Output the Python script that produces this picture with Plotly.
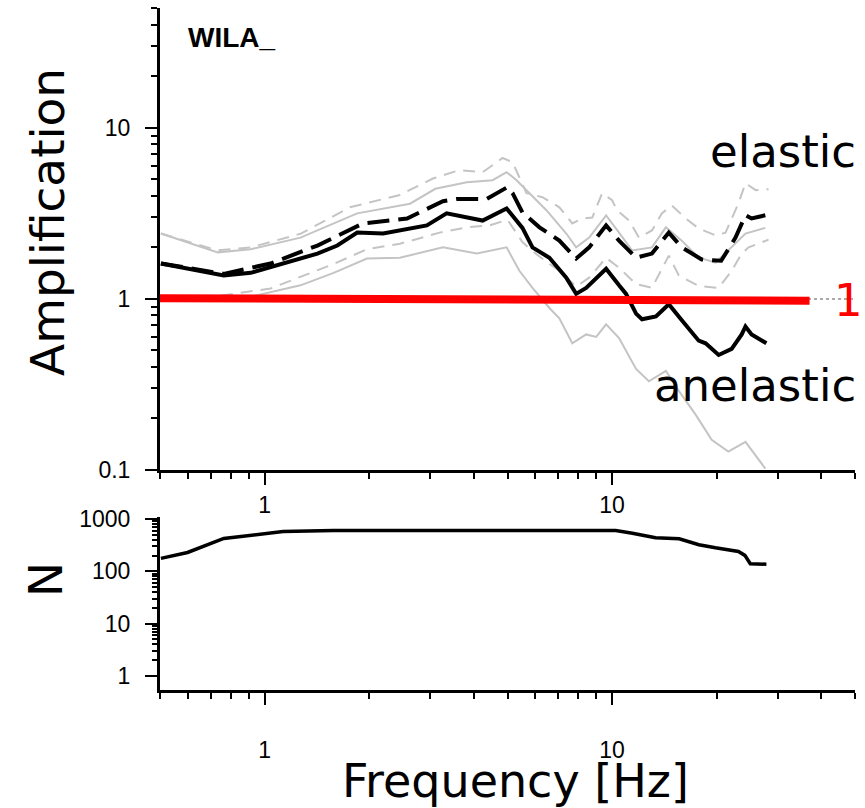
import plotly.graph_objects as go
import math

# ---------------- data ----------------
freq_an_mean = [0.503, 0.614, 0.763, 0.912, 1.133, 1.419, 1.619, 1.847, 2.193, 2.62, 2.93, 3.34, 3.82, 4.24,
                4.97, 5.52, 5.90, 6.60, 7.38, 7.88, 8.42, 9.61, 10.47, 10.97, 11.72, 12.19, 13.37, 14.56,
                15.87, 17.75, 18.58, 20.26, 22.08, 23.6, 24.2, 25.2, 27.8]
amp_an_mean = [1.61, 1.50, 1.37, 1.42, 1.61, 1.84, 2.05, 2.44, 2.41, 2.58, 2.69, 3.16, 3.0, 2.87,
               3.38, 2.6, 2.0, 1.74, 1.33, 1.07, 1.16, 1.5, 1.2, 1.07, 0.82, 0.76, 0.79, 0.93,
               0.75, 0.57, 0.55, 0.47, 0.51, 0.62, 0.69, 0.62, 0.55]

freq_el_mean = [0.503, 0.763, 1.04, 1.419, 1.92, 2.57, 3.26, 3.57, 4.35, 5.0, 5.17, 5.52, 6.18, 7.05, 7.88,
                8.59, 9.61, 10.47, 11.72, 13.02, 14.56, 15.87, 18.11, 20.6, 22.65, 24.2, 25.2, 27.6]
amp_el_mean = [1.61, 1.40, 1.61, 2.05, 2.76, 2.95, 3.72, 3.83, 3.83, 4.5, 4.15, 3.2, 2.62, 2.19, 1.72,
               2.0, 2.69, 2.19, 1.74, 1.84, 2.44, 2.0, 1.70, 1.67, 2.28, 3.08, 2.95, 3.08]

freq_el_hi = [0.503, 0.733, 0.912, 1.268, 1.76, 2.45, 3.05, 3.64, 4.24, 4.84, 5.17, 5.41, 5.67, 6.30, 7.05,
              7.68, 8.20, 8.77, 9.36, 10.0, 10.33, 11.19, 11.95, 13.02, 13.9, 14.85, 16.29, 17.75, 19.86,
              21.2, 23.1, 24.2, 25.9, 28.2]
amp_el_hi = [2.41, 1.92, 2.0, 2.4, 3.43, 4.05, 5.05, 5.66, 5.5, 6.66, 6.3, 5.15, 4.15, 3.93, 3.43,
             2.76, 2.95, 2.99, 4.15, 3.77, 3.3, 2.87, 2.28, 2.51, 3.16, 3.52, 2.95, 2.58, 2.35,
             2.44, 3.62, 4.74, 4.32, 4.38]

freq_el_lo = [0.503, 0.763, 1.04, 1.268, 1.58, 1.97, 2.45, 3.19, 3.82, 4.44, 5.0, 5.52, 5.9, 6.6, 7.05,
              7.88, 8.59, 9.61, 10.47, 11.72, 13.02, 14.56, 15.56, 17.75, 20.26, 22.08, 23.6, 24.7, 28.2]
amp_el_lo = [1.02, 1.05, 1.15, 1.35, 1.6, 1.95, 2.1, 2.44, 2.62, 2.69, 2.9, 2.15, 1.9, 1.6, 1.46,
             1.18, 1.33, 1.74, 1.52, 1.22, 1.16, 1.79, 1.37, 1.19, 1.16, 1.46, 1.84, 2.0, 2.22]

freq_an_hi = [0.503, 0.733, 0.912, 1.268, 1.847, 2.62, 3.1, 3.82, 4.53, 4.97, 5.31, 5.78, 6.47, 7.38, 7.88,
              8.59, 9.61, 10.47, 11.41, 13.02, 14.28, 15.87, 17.75, 19.86, 22.08, 24.2, 27.6]
amp_an_hi = [2.41, 1.87, 1.95, 2.28, 3.16, 3.6, 4.4, 4.8, 4.94, 5.5, 4.94, 4.15, 3.3, 2.41, 2.0,
             2.28, 3.08, 2.44, 1.92, 2.0, 2.62, 2.19, 1.74, 1.63, 2.0, 2.41, 2.6]

freq_an_lo = [0.503, 0.763, 0.912, 1.268, 1.58, 1.97, 2.45, 3.26, 4.08, 4.97, 5.41, 5.90, 6.60, 7.05, 7.68,
              8.42, 9.0, 9.61, 10.47, 11.72, 12.76, 14.28, 15.56, 17.41, 19.34, 21.6, 24.2, 25.9, 27.6]
amp_an_lo = [1.02, 0.98, 1.03, 1.2, 1.42, 1.72, 1.74, 2.0, 1.84, 2.0, 1.46, 1.16, 0.885, 0.77, 0.55,
             0.62, 0.6, 0.71, 0.59, 0.39, 0.33, 0.38, 0.29, 0.21, 0.15, 0.128, 0.146, 0.122, 0.102]

freq_n = [0.503, 0.6, 0.763, 0.99, 1.13, 1.58, 10.24, 11.44, 13.33, 15.6, 17.77, 19.83, 23.1, 24.1, 24.98, 27.8]
n_count = [177, 230, 426, 530, 578, 604, 604, 537, 438, 420, 323, 282, 240, 202, 140, 137]

ref_x = [0.5, 50]
ref_y = [1, 1]
red_x = [0.5, 37]
red_y = [1.01, 0.975]

x_major = [1, 10]
x_minor = [0.5, 0.6, 0.7, 0.8, 0.9, 2, 3, 4, 5, 6, 7, 8, 9, 20, 30, 40, 50]
y1_major = [0.1, 1, 10]
y1_minor = [0.2, 0.3, 0.4, 0.5, 0.6, 0.7, 0.8, 0.9, 2, 3, 4, 5, 6, 7, 8, 9, 20, 30, 40, 50]
y2_major = [1, 10, 100, 1000]
y2_minor = [m * d for d in (1, 10, 100) for m in range(2, 10)]

# ---------------- figure ----------------
W, H = 865, 808
GRAY = "#c4c4c4"

fig = go.Figure()

def add(x, y, color, width, dash, xa="x", ya="y"):
    fig.add_trace(go.Scatter(x=x, y=y, mode="lines", xaxis=xa, yaxis=ya,
                             line=dict(color=color, width=width, dash=dash),
                             hoverinfo="skip", showlegend=False))

add(ref_x, ref_y, "#aaaaaa", 2, "dot")
add(freq_an_hi, amp_an_hi, GRAY, 2, "solid")
add(freq_an_lo, amp_an_lo, GRAY, 2, "solid")
add(freq_el_hi, amp_el_hi, GRAY, 2, "12px,8px")
add(freq_el_lo, amp_el_lo, GRAY, 2, "12px,8px")
add(freq_el_mean, amp_el_mean, "black", 4, "22px,9px")
add(freq_an_mean, amp_an_mean, "black", 4, "solid")
add(red_x, red_y, "#ff0000", 8, "solid")
add(freq_n, n_count, "black", 3.5, "solid", "x2", "y2")

tickfont = dict(family="Liberation Sans, Arial, sans-serif", size=23, color="black")

def axis_common():
    return dict(type="log", showgrid=False, zeroline=False, showline=True,
                linecolor="black", linewidth=3, ticks="outside", ticklen=12,
                tickwidth=2, tickcolor="black", tickfont=tickfont, mirror=False,
                automargin=False)

xdom = [160 / W, 855 / W]
fig.update_layout(
    width=W, height=H, margin=dict(l=0, r=0, t=0, b=0, pad=0, autoexpand=False),
    paper_bgcolor="white", plot_bgcolor="white", showlegend=False,
    xaxis=dict(**axis_common(), domain=xdom, anchor="y",
               range=[math.log10(0.5), math.log10(50)],
               tickmode="array", tickvals=x_major, ticktext=["1", "10"],
               ticklabelstandoff=0,
               minor=dict(tickmode="array", tickvals=x_minor, ticks="outside",
                          ticklen=6, tickwidth=2, tickcolor="black")),
    yaxis=dict(**axis_common(), domain=[1 - 470 / H, 1 - 8 / H], anchor="x",
               range=[-1, 1.7], ticklabelstandoff=10,
               tickmode="array", tickvals=y1_major, ticktext=["0.1", "1", "10"],
               minor=dict(tickmode="array", tickvals=y1_minor, ticks="outside",
                          ticklen=6, tickwidth=2, tickcolor="black")),
    xaxis2=dict(**axis_common(), domain=xdom, anchor="y2",
                range=[math.log10(0.5), math.log10(50)],
                tickmode="array", tickvals=x_major, ticktext=["1", "10"],
                ticklabelstandoff=25,
                minor=dict(tickmode="array", tickvals=x_minor, ticks="outside",
                           ticklen=6, tickwidth=2, tickcolor="black")),
    yaxis2=dict(**axis_common(), domain=[1 - 690 / H, 1 - 517 / H], anchor="x2",
                range=[-0.27, 3.04], ticklabelstandoff=10,
                tickmode="array", tickvals=y2_major, ticktext=["1", "10", "100", "1000"],
                minor=dict(tickmode="array", tickvals=y2_minor, ticks="outside",
                           ticklen=5, tickwidth=1.5, tickcolor="black")),
)

big = dict(family="DejaVu Sans, Verdana, sans-serif", size=47, color="black")
mid = dict(family="DejaVu Sans, Verdana, sans-serif", size=45, color="black")

def note(text, px, py, font, xanchor="center", angle=0):
    fig.add_annotation(text=text, x=px / W, y=1 - py / H, xref="paper", yref="paper",
                       xanchor=xanchor, yanchor="middle", showarrow=False,
                       font=font, textangle=angle)

note("<b>WILA_</b>", 186, 37, dict(family="Liberation Sans, Arial, sans-serif", size=28, color="black"), "left")
note("Amplification", 47, 222, big, angle=-90)
note("N", 45, 580, big, angle=-90)
note("Frequency [Hz]", 515, 781, dict(family="DejaVu Sans, Verdana, sans-serif", size=46, color="black"))
note("elastic", 783, 152, mid)
note("anelastic", 755, 385, mid)
note("1", 848, 300, dict(family="DejaVu Sans, Verdana, sans-serif", size=45, color="#ff0000"))

fig.write_html("out.html")
